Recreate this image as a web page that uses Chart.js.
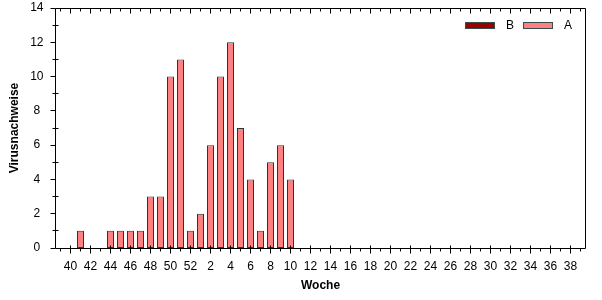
<!DOCTYPE html>
<html>
<head>
<meta charset="utf-8">
<script src="https://cdn.jsdelivr.net/npm/chart.js@4.4.0/dist/chart.umd.min.js"></script>
<style>
  html, body { margin: 0; padding: 0; background: #fff; }
  #wrap { width: 602px; height: 300px; }
</style>
</head>
<body>
<div id="wrap"><canvas id="chart"></canvas></div>
<script>
// Kalenderwochen 39/2023 .. 39/2024
const weeks = [39,40,41,42,43,44,45,46,47,48,49,50,51,52,
  1,2,3,4,5,6,7,8,9,10,11,12,13,14,15,16,17,18,19,20,
  21,22,23,24,25,26,27,28,29,30,31,32,33,34,35,36,37,38,39];
const seriesA = [0,0,1,0,0,1,1,1,1,3,3,10,11,1,
  2,6,10,12,7,4,1,5,6,4,0,0,0,0,0,0,0,0,0,0,
  0,0,0,0,0,0,0,0,0,0,0,0,0,0,0,0,0,0,0];
const seriesB = [0,0,0,0,0,0,0,0,0,0,0,0,0,0,
  0,0,0,0,0,0,0,0,0,0,0,0,0,0,0,0,0,0,0,0,
  0,0,0,0,0,0,0,0,0,0,0,0,0,0,0,0,0,0,0];
const yTicks = [0,2,4,6,8,10,12,14];

const FONT = "'Liberation Sans', Arial, sans-serif";

// frame, minor ticks and legend inside the plot
const framePlugin = {
  id: 'frame',
  afterDraw(chart) {
    const {ctx, chartArea: a, scales: {x, y}} = chart;
    const L = Math.floor(a.left) + 0.5, R = Math.floor(a.right) + 0.5;
    const T = Math.floor(a.top) + 0.5, B = Math.floor(a.bottom) + 0.5;
    ctx.save();
    ctx.strokeStyle = '#000';
    ctx.lineWidth = 1;
    ctx.beginPath();
    ctx.rect(L, T, R - L, B - T);
    // x ticks bottom + top
    weeks.forEach((w, i) => {
      const px = Math.floor(x.getPixelForTick(i)) + 0.5;
      const major = i % 2 === 1;
      if (major) { ctx.moveTo(px, B - 3); ctx.lineTo(px, B + 5); }
      else { ctx.moveTo(px, B); ctx.lineTo(px, B + 3); }
      ctx.moveTo(px, T); ctx.lineTo(px, T + (major ? 5 : 3));
    });
    // y ticks
    for (let v = 0; v <= 14; v++) {
      const py = Math.floor(y.getPixelForValue(v)) + 0.5;
      if (v % 2 === 0) { ctx.moveTo(L - 5, py); ctx.lineTo(L, py); }
      else { ctx.moveTo(L - 3, py); ctx.lineTo(L + 3, py); }
    }
    ctx.stroke();

    // legend
    ctx.font = '12px ' + FONT;
    ctx.textBaseline = 'middle';
    let lx = 465;
    const ly = 22;
    chart.data.datasets.forEach(ds => {
      ctx.fillStyle = ds.backgroundColor;
      ctx.fillRect(lx, ly, 30, 7);
      ctx.strokeStyle = '#3a4c4c';
      ctx.strokeRect(lx + 0.5, ly + 0.5, 29, 6);
      ctx.fillStyle = '#000';
      ctx.fillText(ds.label, lx + 41, ly + 4);
      lx += 58;
    });
    ctx.restore();
  }
};

new Chart(document.getElementById('chart'), {
  type: 'bar',
  data: {
    labels: weeks,
    datasets: [
      { label: 'B', data: seriesB, backgroundColor: '#990000', borderColor: '#1a3c3c', borderWidth: 1,
        borderSkipped: false, grouped: false, barPercentage: 0.7, categoryPercentage: 1 },
      { label: 'A', data: seriesA, backgroundColor: '#ff8080', borderColor: '#1a3c3c', borderWidth: 1,
        borderSkipped: false, grouped: false, barPercentage: 0.7, categoryPercentage: 1 }
    ]
  },
  options: {
    responsive: true,
    maintainAspectRatio: false,
    animation: false,
    layout: { padding: { top: 8, right: 16.5, left: 0, bottom: 0 } },
    plugins: { legend: { display: false }, tooltip: { enabled: false } },
    scales: {
      x: {
        grid: { display: false, drawTicks: false },
        border: { display: false },
        ticks: {
          autoSkip: false, maxRotation: 0, padding: 11, color: '#000',
          font: { family: FONT, size: 12 },
          callback: (v, i) => (i % 2 === 1 ? String(weeks[i]) : '')
        },
        title: { display: true, text: 'Woche', color: '#000',
          font: { family: FONT, size: 12, weight: 'bold' }, padding: { top: 0, bottom: 7 } },
        afterFit: s => { s.height = 52; s.paddingLeft = 0; s.paddingRight = 0; }
      },
      y: {
        min: 0, max: 14,
        grid: { display: false, drawTicks: false },
        border: { display: false },
        afterBuildTicks: s => { s.ticks = yTicks.map(v => ({ value: v })); },
        ticks: { padding: 12, color: '#000', crossAlign: 'center',
          font: { family: FONT, size: 12 } },
        title: { display: true, text: 'Virusnachweise', color: '#000',
          font: { family: FONT, size: 12, weight: 'bold' }, padding: { top: 7, bottom: 0 } },
        afterFit: s => { s.width = 55.5; s.paddingTop = 0; s.paddingBottom = 0; }
      }
    }
  },
  plugins: [framePlugin]
});
</script>
</body>
</html>
